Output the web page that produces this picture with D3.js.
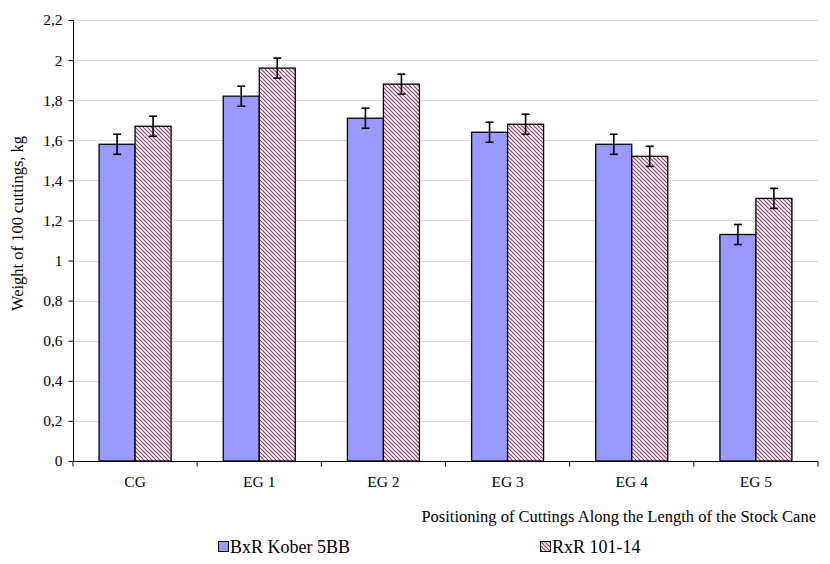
<!DOCTYPE html>
<html>
<head>
<meta charset="utf-8">
<script src="https://cdn.jsdelivr.net/npm/d3@7"></script>
<style>
  html, body { margin: 0; padding: 0; background: #fff; }
  svg { display: block; }
  svg text { font-family: "Liberation Serif", "DejaVu Serif", serif; fill: #000; }
</style>
</head>
<body>
<svg id="chart" width="830" height="564"></svg>
<script>
// Weight of 100 cuttings by position along the stock cane
const categories = ["CG", "EG 1", "EG 2", "EG 3", "EG 4", "EG 5"];
const seriesNames = ["BxR Kober 5BB", "RxR 101-14"];
const koberValues = [1.58, 1.82, 1.71, 1.64, 1.58, 1.13];
const rxrValues = [1.67, 1.96, 1.88, 1.68, 1.52, 1.31];
const koberErrors = [0.05, 0.05, 0.05, 0.05, 0.05, 0.05];
const rxrErrors = [0.05, 0.05, 0.05, 0.05, 0.05, 0.05];
const yTicks = [0, 0.2, 0.4, 0.6, 0.8, 1, 1.2, 1.4, 1.6, 1.8, 2, 2.2];

const svg = d3.select("#chart");
const plotLeft = 73, plotRight = 818, plotTop = 20, plotBottom = 461;

// hatch pattern for the second series
const defs = svg.append("defs");
const pat = defs.append("pattern")
  .attr("id", "hatch")
  .attr("patternUnits", "userSpaceOnUse")
  .attr("width", 4).attr("height", 4);
pat.append("rect").attr("width", 4).attr("height", 4).attr("fill", "#fff");
pat.append("path")
  .attr("d", "M-1,-1 L5,5 M-1,3 L1,5 M3,-1 L5,1")
  .attr("stroke", "#a0336a").attr("stroke-width", 1.1);

const x = d3.scaleBand().domain(categories).range([plotLeft, plotRight]).paddingInner(0).paddingOuter(0);
const y = d3.scaleLinear().domain([0, 2.2]).range([plotBottom, plotTop]);
const barW = 36;
const fmt = v => String(+v.toFixed(1)).replace(".", ",");

// gridlines
svg.append("g").selectAll("line").data(yTicks.filter(t => t > 0)).join("line")
  .attr("x1", plotLeft).attr("x2", plotRight)
  .attr("y1", d => Math.round(y(d)) + 0.5).attr("y2", d => Math.round(y(d)) + 0.5)
  .attr("stroke", "#d9d9d9").attr("stroke-width", 1);

const series = [
  { name: seriesNames[0], values: koberValues, errors: koberErrors, fill: "#9999ff", offset: -barW },
  { name: seriesNames[1], values: rxrValues, errors: rxrErrors, fill: "url(#hatch)", offset: 0 }
];

series.forEach(s => {
  const g = svg.append("g");
  g.selectAll("rect").data(categories).join("rect")
    .attr("x", (c) => x(c) + x.bandwidth() / 2 + s.offset)
    .attr("y", (c, i) => y(s.values[i]))
    .attr("width", barW)
    .attr("height", (c, i) => y(0) - y(s.values[i]))
    .attr("fill", s.fill)
    .attr("stroke", "#000").attr("stroke-width", 1.3);
});

// error bars
series.forEach(s => {
  const g = svg.append("g").attr("stroke", "#000").attr("stroke-width", 1.6);
  categories.forEach((c, i) => {
    const cx = x(c) + x.bandwidth() / 2 + s.offset + barW / 2;
    const hi = y(s.values[i] + s.errors[i]);
    const lo = y(s.values[i] - s.errors[i]);
    g.append("line").attr("x1", cx).attr("x2", cx).attr("y1", hi).attr("y2", lo);
    g.append("line").attr("x1", cx - 4).attr("x2", cx + 4).attr("y1", hi).attr("y2", hi);
    g.append("line").attr("x1", cx - 4).attr("x2", cx + 4).attr("y1", lo).attr("y2", lo);
  });
});

// y axis
const yAxis = svg.append("g").attr("transform", `translate(${plotLeft + 0.5},0)`)
  .call(d3.axisLeft(y).tickValues(yTicks).tickFormat(fmt).tickSize(5).tickPadding(6));
yAxis.attr("font-family", null).attr("font-size", null);
yAxis.select(".domain").attr("stroke", "#000").attr("d", `M0,${plotTop}V${plotBottom}`);
yAxis.selectAll(".tick line").attr("stroke", "#000");
yAxis.selectAll("text").style("font-size", "15.5px");

// x axis
const xAxis = svg.append("g").attr("transform", `translate(0,${plotBottom + 0.5})`);
xAxis.append("line").attr("x1", plotLeft).attr("x2", plotRight).attr("stroke", "#000");
xAxis.selectAll(".sep").data(categories.concat(["end"])).join("line")
  .attr("class", "sep")
  .attr("x1", (d, i) => plotLeft + i * x.bandwidth()).attr("x2", (d, i) => plotLeft + i * x.bandwidth())
  .attr("y1", 0).attr("y2", 5).attr("stroke", "#000");
xAxis.selectAll("text").data(categories).join("text")
  .attr("x", d => x(d) + x.bandwidth() / 2)
  .attr("y", 25)
  .attr("text-anchor", "middle")
  .style("font-size", "15.5px")
  .text(d => d);

// axis titles
svg.append("text")
  .attr("transform", `translate(23,${(plotTop + plotBottom) / 2 - 17}) rotate(-90)`)
  .attr("text-anchor", "middle")
  .style("font-size", "16.5px")
  .text("Weight of 100 cuttings,  kg");

svg.append("text")
  .attr("x", 816).attr("y", 522)
  .attr("text-anchor", "end")
  .style("font-size", "16.5px")
  .text("Positioning  of Cuttings  Along the Length  of the Stock Cane");

// legend
const legendX = [218, 540];
series.forEach((s, i) => {
  const g = svg.append("g").attr("transform", `translate(${legendX[i]},541)`);
  g.append("rect").attr("x", 0.5).attr("y", 0.5).attr("width", 10).attr("height", 10)
    .attr("fill", s.fill).attr("stroke", "#000").attr("stroke-width", 1);
  g.append("text").attr("x", 12).attr("y", 11.5).style("font-size", "18px").text(s.name);
});
</script>
</body>
</html>
